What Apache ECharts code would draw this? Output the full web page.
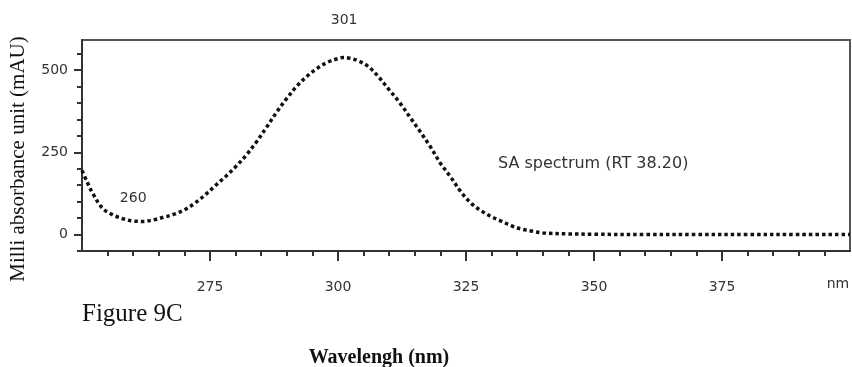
<!DOCTYPE html>
<html>
<head>
<meta charset="utf-8">
<script src="https://cdn.jsdelivr.net/npm/echarts@6/dist/echarts.min.js"></script>
<style>
html,body{margin:0;padding:0;background:#fff;}
#chart{width:852px;height:367px;}
</style>
</head>
<body>
<div id="chart"></div>
<script>
// Data
const wavelengths = [250, 251, 252, 254, 256, 258, 260, 262, 264, 266, 268, 270, 272, 274, 276, 278, 280, 282, 284, 286, 288, 290, 292, 294, 296, 298, 300, 301, 302, 304, 306, 308, 310, 312, 314, 316, 318, 320, 322, 324, 326, 328, 330, 332, 334, 336, 338, 340, 345, 350, 360, 370, 380, 390, 400];
const absorbance = [195, 160, 128, 80, 60, 48, 41, 40, 45, 53, 62, 75, 95, 120, 148, 176, 206, 240, 280, 325, 372, 414, 452, 482, 506, 524, 535, 538, 537, 528, 510, 478, 440, 402, 358, 314, 268, 217, 175, 130, 95, 72, 54, 40, 26, 16, 10, 5, 2, 1, 0, 0, 0, 0, 0];
const xMajorTicks = [275, 300, 325, 350, 375];
const xMinorTicks = [255, 260, 265, 270, 280, 285, 290, 295, 305, 310, 315, 320, 330, 335, 340, 345, 355, 360, 365, 370, 380, 385, 390, 395];
const yMajorTicks = [0, 250, 500];
const yMinorTicks = [-50, 50, 100, 150, 200, 300, 350, 400, 450, 550];
const peakLabels = [{text: '301', x: 301, y: 540}, {text: '260', x: 260, y: 40}];

const chart = echarts.init(document.getElementById('chart'), null, {renderer: 'canvas'});
const labelFont = "'DejaVu Sans', 'Open Sans', sans-serif";
const xMin = 250, xMax = 400, yMin = -50, yMax = 591.5;

const grid = {left: 82, right: 2, top: 40, bottom: 116, show: true, borderColor: '#555', borderWidth: 2};

const option = {
  animation: false,
  grid: grid,
  xAxis: [
    {
      type: 'value', min: xMin, max: xMax, position: 'bottom',
      axisLine: {show: true, onZero: false, lineStyle: {color: '#333', width: 2}},
      axisTick: {show: true, customValues: xMajorTicks, length: 10, lineStyle: {color: '#333', width: 2}},
      axisLabel: {show: true, customValues: xMajorTicks, margin: 29, color: '#333', fontFamily: labelFont, fontSize: 14},
      splitLine: {show: false}
    },
    {
      type: 'value', min: xMin, max: xMax, position: 'bottom',
      axisLine: {show: false, onZero: false},
      axisTick: {show: true, customValues: xMinorTicks, length: 5, lineStyle: {color: '#333', width: 2}},
      axisLabel: {show: false},
      splitLine: {show: false}
    }
  ],
  yAxis: [
    {
      type: 'value', min: yMin, max: yMax, position: 'left',
      axisLine: {show: true, onZero: false, lineStyle: {color: '#333', width: 2}},
      axisTick: {show: true, customValues: yMajorTicks, length: 8, lineStyle: {color: '#333', width: 2}},
      axisLabel: {show: true, customValues: yMajorTicks, margin: 14, color: '#333', fontFamily: labelFont, fontSize: 14},
      splitLine: {show: false}
    },
    {
      type: 'value', min: yMin, max: yMax, position: 'left',
      axisLine: {show: false, onZero: false},
      axisTick: {show: true, customValues: yMinorTicks, length: 5, lineStyle: {color: '#333', width: 2}},
      axisLabel: {show: false},
      splitLine: {show: false}
    }
  ],
  series: [
    {
      type: 'line',
      xAxisIndex: 0, yAxisIndex: 0,
      data: wavelengths.map((w, i) => [w, absorbance[i]]),
      smooth: 0.35,
      showSymbol: false,
      lineStyle: {color: '#111', width: 3.5, type: [3.5, 3], cap: 'butt'},
      clip: true,
      z: 3
    }
  ]
};
chart.setOption(option);

// Annotation texts positioned via axis conversion
function px(x, y) { return chart.convertToPixel({xAxisIndex: 0, yAxisIndex: 0}, [x, y]); }
const p301 = px(peakLabels[0].x, peakLabels[0].y);
const p260 = px(peakLabels[1].x, peakLabels[1].y);
const annFont = "14px 'DejaVu Sans', sans-serif";

chart.setOption({
  graphic: [
    {type: 'text', x: p301[0] + 1, y: 20, style: {text: peakLabels[0].text, font: annFont, fill: '#333', align: 'center', verticalAlign: 'middle'}},
    {type: 'text', x: p260[0], y: p260[1] - 23, style: {text: peakLabels[1].text, font: annFont, fill: '#333', align: 'center', verticalAlign: 'middle'}},
    {type: 'text', x: 498, y: 164, style: {text: 'SA spectrum (RT 38.20)', font: "16px 'DejaVu Sans', sans-serif", fill: '#333', verticalAlign: 'middle'}},
    {type: 'text', x: 838, y: 284, style: {text: 'nm', font: annFont, fill: '#333', align: 'center', verticalAlign: 'middle'}},
    {type: 'text', x: 82, y: 314, style: {text: 'Figure 9C', font: "25px 'Liberation Serif', 'Times New Roman', serif", fill: '#111', verticalAlign: 'middle'}},
    {type: 'text', x: 379, y: 358, style: {text: 'Wavelengh (nm)', font: "bold 20px 'Liberation Serif', 'Times New Roman', serif", fill: '#111', align: 'center', verticalAlign: 'middle'}},
    {type: 'text', x: 18, y: 159, rotation: Math.PI / 2, style: {text: 'Milli absorbance unit (mAU)', font: "21px 'Liberation Serif', 'Times New Roman', serif", fill: '#111', align: 'center', verticalAlign: 'middle'}}
  ]
});
</script>
</body>
</html>
